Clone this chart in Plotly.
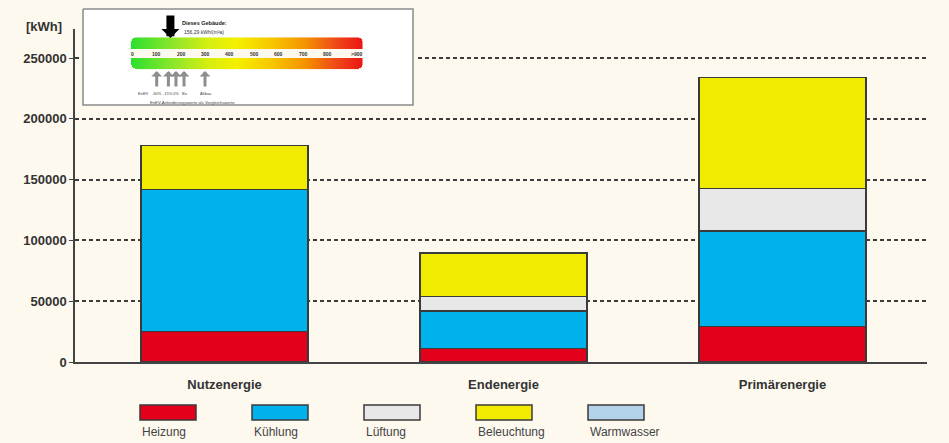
import numpy as np
import plotly.graph_objects as go

W, H = 949, 443

# ---- chart data -------------------------------------------------------
categories = ["Nutzenergie", "Endenergie", "Primärenergie"]
series_names = ["Heizung", "Kühlung", "Lüftung", "Beleuchtung", "Warmwasser"]
heizung = [25000, 11000, 29000]
kuehlung = [117000, 31000, 78700]
lueftung = [0, 12000, 35100]
beleuchtung = [36000, 35500, 91300]
warmwasser = [0, 0, 0]
y_ticks = [0, 50000, 100000, 150000, 200000, 250000]

# ---- energy label inset data -------------------------------------------
scale_ticks = [0, 100, 200, 300, 400, 500, 600, 700, 800, 920]
scale_tick_labels = ["0", "100", "200", "300", "400", "500", "600", "700", "800", ">900"]
building_value = 156.29
reference_values = [100, 148, 179, 212, 298]
reference_labels = ["-30%", "-15%", "0%", "Bu", "Altbau"]

series_values = [heizung, kuehlung, lueftung, beleuchtung, warmwasser]
series_colors = ["#e2001a", "#00b2ec", "#e8e8e8", "#f0eb00", "#b2d3ea"]

BG = "#fdf9ef"
INK = "#333333"
FONT = "Liberation Sans, Arial, sans-serif"


def px(x):
    return x / W


def py(y):
    return 1 - y / H


# inset value scale: value 0 at x=132.3 px, 24.4 px per 100 kWh/(m²a)
def val(xpix):
    return (xpix - 132.3) / 0.244


fig = go.Figure()

# ---- stacked bars -----------------------------------------------------
for name, vals, color in zip(series_names, series_values, series_colors):
    fig.add_trace(go.Bar(
        x=categories, y=vals, name=name, width=0.6,
        marker=dict(color=color, line=dict(color="#3a3a3a", width=1.5)),
        showlegend=False, hoverinfo="skip", xaxis="x", yaxis="y",
    ))

# ---- inset: white card --------------------------------------------------
bx0, bx1 = val(83), val(413)
fig.add_trace(go.Scatter(
    x=[bx0, bx1, bx1, bx0, bx0], y=[9, 9, 105, 105, 9],
    mode="lines", fill="toself", fillcolor="white",
    line=dict(color="#8c8c8c", width=1.5),
    hoverinfo="skip", showlegend=False, xaxis="x2", yaxis="y2",
))

# ---- inset: colour ramp (two rounded halves) ----------------------------
gx0, gx1, gy0, gy1 = 130.7, 362.7, 37.3, 69.3
band0, band1 = 49.3, 58.3
ncol = int(round(gx1 - gx0))
cols_px = gx0 + 0.5 + np.arange(ncol)
rows_px = gy0 + 0.5 + np.arange(int(round(gy1 - gy0)))
xs = val(cols_px)
z = np.tile(xs, (len(rows_px), 1)).astype(float)
r = 6.0
for i, yy in enumerate(rows_px):
    if band0 < yy < band1:
        z[i, :] = np.nan
        continue
    top_half = yy <= band0
    for j, xx in enumerate(cols_px):
        cy = gy0 + r if top_half else gy1 - r
        in_corner_rows = (yy < cy) if top_half else (yy > cy)
        if not in_corner_rows:
            continue
        if xx < gx0 + r:
            cx = gx0 + r
        elif xx > gx1 - r:
            cx = gx1 - r
        else:
            continue
        if (xx - cx) ** 2 + (yy - cy) ** 2 > r * r:
            z[i, j] = np.nan

ramp = [[0.0, "#2fe02f"], [0.18, "#8fe62a"], [0.33, "#d6ee10"],
        [0.45, "#f4f000"], [0.6, "#f7c800"], [0.75, "#f49200"],
        [0.88, "#ef4a18"], [1.0, "#ec1414"]]
fig.add_trace(go.Heatmap(
    x=xs, y=rows_px, z=z, colorscale=ramp, zmin=0, zmax=val(gx1),
    showscale=False, hoverinfo="skip", zsmooth=False,
    xaxis="x3", yaxis="y3",
))

# ---- layout -------------------------------------------------------------
fig.update_layout(
    width=W, height=H,
    margin=dict(l=0, r=0, t=0, b=0, pad=0, autoexpand=False),
    paper_bgcolor=BG, plot_bgcolor=BG,
    barmode="stack", bargap=0.4,
    hovermode=False, showlegend=False,
    font=dict(family=FONT, color=INK),
    xaxis=dict(
        domain=[px(75), px(927)], type="category",
        range=[-0.536, 2.518], automargin=False,
        showline=True, linecolor="#444444", linewidth=1.5,
        showgrid=False, zeroline=False, ticks="",
        tickfont=dict(family=FONT, size=13, color=INK, weight="bold"),
        ticklabelstandoff=10,
    ),
    yaxis=dict(
        domain=[py(362), py(29)], range=[0, 273850], automargin=False,
        tickvals=y_ticks, ticktext=[str(v) for v in y_ticks],
        showline=True, linecolor="#444444", linewidth=1.5,
        ticks="outside", ticklen=4, tickcolor="#444444", tickwidth=1.2,
        tickfont=dict(family=FONT, size=13, color=INK, weight="bold"),
        showgrid=True, gridcolor="#3c3c3c", gridwidth=1.5, griddash="4px,3px",
        zeroline=False,
    ),
    xaxis2=dict(domain=[px(80), px(416)], range=[val(80), val(416)],
                visible=False, fixedrange=True, automargin=False),
    yaxis2=dict(domain=[py(108), py(6)], range=[108, 6],
                visible=False, fixedrange=True, automargin=False),
    xaxis3=dict(domain=[px(gx0), px(gx1)], range=[val(gx0), val(gx1)],
                visible=False, fixedrange=True, automargin=False),
    yaxis3=dict(domain=[py(gy1), py(gy0)], range=[gy1, gy0],
                visible=False, fixedrange=True, automargin=False),
)

annotations = []
shapes = []

# axis unit
annotations.append(dict(
    x=px(64), y=py(27), xref="paper", yref="paper", xanchor="right",
    yanchor="middle", text="[kWh]", showarrow=False,
    font=dict(family=FONT, size=13, color=INK, weight="bold"),
))

# legend swatches with labels underneath
for i, (name, color) in enumerate(zip(series_names, series_colors)):
    x0 = 140 + i * 112
    shapes.append(dict(
        type="rect", xref="paper", yref="paper",
        x0=px(x0), x1=px(x0 + 56), y0=py(420), y1=py(405),
        fillcolor=color, line=dict(color="#3a3a3a", width=1.5),
    ))
    annotations.append(dict(
        x=px(x0), y=py(432), xref="paper", yref="paper",
        xanchor="left", yanchor="middle", text=name, showarrow=False,
        font=dict(family=FONT, size=12, color="#444444"),
    ))

# inset scale numbers
for v, lab in zip(scale_ticks, scale_tick_labels):
    annotations.append(dict(
        x=v, y=54, xref="x2", yref="y2", xanchor="center", yanchor="middle",
        text=lab, showarrow=False,
        font=dict(family=FONT, size=5, color="#333333", weight="bold"),
    ))

# this building
annotations.append(dict(
    x=building_value, y=38, xref="x2", yref="y2", text="", showarrow=True,
    ax=0, ay=-24, arrowhead=1, arrowwidth=8, arrowsize=0.375,
    arrowcolor="black", standoff=0,
))
annotations.append(dict(
    x=building_value, y=23, xref="x2", yref="y2", xanchor="left",
    yanchor="middle", xshift=10, text="Dieses Gebäude:", showarrow=False,
    font=dict(family=FONT, size=5.5, color="#222222", weight="bold"),
))
annotations.append(dict(
    x=building_value, y=32, xref="x2", yref="y2", xanchor="left",
    yanchor="middle", xshift=12,
    text=f"{building_value:.2f}".replace(".", ",") + " kWh/(m²a)",
    showarrow=False, font=dict(family=FONT, size=5, color="#333333"),
))

# reference values
for v, lab in zip(reference_values, reference_labels):
    annotations.append(dict(
        x=v, y=71, xref="x2", yref="y2", text="", showarrow=True,
        ax=0, ay=17, arrowhead=1, arrowwidth=3, arrowsize=0.6,
        arrowcolor="#8e8e8e", standoff=0,
    ))
    annotations.append(dict(
        x=v, y=93, xref="x2", yref="y2", xanchor="center", yanchor="middle",
        text=lab, showarrow=False,
        font=dict(family=FONT, size=4, color="#444444"),
    ))
annotations.append(dict(
    x=reference_values[0], y=93, xref="x2", yref="y2", xanchor="right",
    yanchor="middle", xshift=-6, text="EnEV", showarrow=False,
    font=dict(family=FONT, size=4, color="#444444"),
))
annotations.append(dict(
    x=val(148), y=102, xref="x2", yref="y2", xanchor="left", yanchor="middle",
    text="EnEV-Anforderungswerte als Vergleichswerte", showarrow=False,
    font=dict(family=FONT, size=4.2, color="#444444"),
))

fig.update_layout(annotations=annotations, shapes=shapes)

fig.write_html("out.html")
